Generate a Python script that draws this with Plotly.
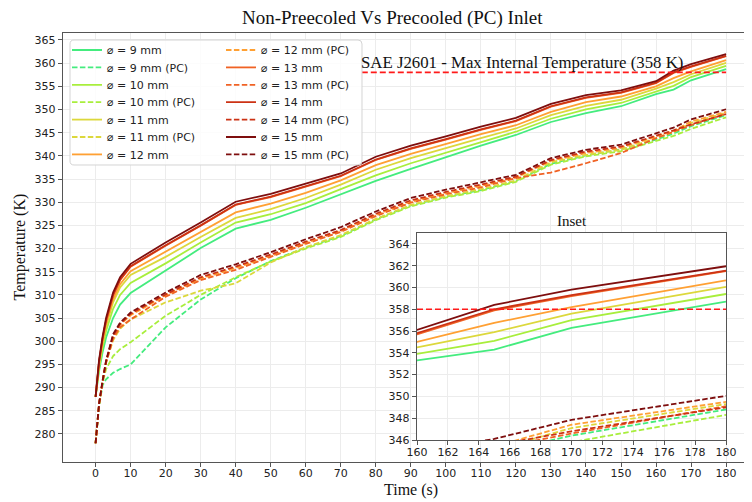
import plotly.graph_objects as go

# ---------------- data ----------------
time_s = [0, 1, 2, 3, 5, 7, 10, 20, 30, 40, 50, 60, 70, 80, 90, 100, 110, 120,
          130, 140, 150, 160, 165, 170, 180]

d9 = [288, 293.6, 297.6, 300.8, 305.0, 307.9, 310.4, 315.2, 320.1, 324.3, 326.2, 328.8,
      331.7, 334.6, 337.2, 339.7, 342.2, 344.5, 347.3, 349.2, 350.7, 353.3, 354.3, 356.3, 358.7]
d10 = [288, 294.3, 298.7, 302.2, 307.0, 310.0, 312.6, 316.8, 321.3, 325.6, 327.4, 329.8,
       332.8, 335.8, 338.4, 340.7, 343.0, 345.2, 348.0, 350.0, 351.4, 353.9, 355.1, 357.0, 359.4]
d11 = [288, 294.8, 299.5, 303.2, 308.4, 311.6, 314.3, 318.2, 322.5, 326.6, 328.5, 330.9,
       333.8, 337.0, 339.5, 341.7, 343.8, 345.9, 348.8, 350.8, 352.1, 354.5, 355.9, 357.6, 360.05]
d12 = [288, 295.2, 300.0, 303.8, 309.1, 312.3, 315.1, 319.3, 323.6, 327.8, 329.7, 332.0,
       334.7, 338.0, 340.4, 342.6, 344.7, 346.6, 349.5, 351.6, 352.8, 355.0, 356.75, 358.2, 360.65]
d13 = [288, 295.5, 300.5, 304.4, 309.9, 313.2, 316.1, 320.6, 324.9, 329.4, 331.1, 333.4,
       335.6, 339.1, 341.5, 343.5, 345.6, 347.5, 350.6, 352.5, 353.6, 355.7, 357.9, 359.2, 361.5]
d14 = [288, 295.6, 300.6, 304.5, 310.0, 313.3, 316.2, 320.7, 325.0, 329.5, 331.2, 333.5,
       335.7, 339.2, 341.6, 343.6, 345.7, 347.6, 350.7, 352.6, 353.7, 355.8, 358.0, 359.3, 361.55]
d15 = [288, 296.0, 301.0, 305.0, 310.5, 313.8, 316.7, 321.3, 325.6, 330.1, 331.8, 334.0,
       336.2, 339.8, 342.2, 344.2, 346.3, 348.2, 351.2, 353.1, 354.1, 356.1, 358.4, 359.8, 361.95]

pc9 = [278, 286.0, 290.5, 291.8, 293.2, 294.0, 295.0, 303.0, 309.0, 313.6, 317.3, 320.2,
       322.7, 326.3, 329.3, 331.2, 332.6, 334.6, 338.3, 340.1, 341.4, 343.5, 344.8, 346.4, 348.8]
pc10 = [278, 286.3, 291.0, 294.0, 296.8, 298.3, 299.8, 305.5, 310.0, 313.8, 317.2, 320.0,
        322.5, 326.1, 329.1, 331.0, 332.4, 334.4, 338.1, 339.9, 341.0, 343.2, 344.3, 345.8, 348.3]
pc11 = [278, 286.4, 291.3, 295.4, 300.2, 302.7, 304.7, 308.4, 310.9, 312.5, 317.0, 320.3,
        322.9, 326.4, 329.4, 331.3, 332.8, 334.7, 338.6, 340.2, 341.3, 343.8, 345.1, 347.1, 349.3]
pc12 = [278, 286.5, 291.4, 295.7, 301.0, 303.5, 305.6, 309.9, 313.5, 315.8, 318.4, 321.2,
        323.8, 327.2, 330.1, 331.9, 333.5, 335.3, 338.9, 340.6, 341.7, 344.2, 345.4, 347.4, 349.5]
pc13 = [278, 286.4, 291.2, 295.3, 300.6, 303.0, 304.7, 309.6, 313.2, 315.4, 318.2, 321.0,
        323.6, 327.0, 329.9, 331.7, 333.2, 335.2, 336.4, 338.4, 340.6, 343.8, 345.2, 346.6, 349.1]
pc14 = [278, 286.5, 291.4, 295.7, 301.2, 303.7, 305.9, 310.1, 313.8, 316.1, 318.7, 321.5,
        324.0, 327.5, 330.4, 332.2, 333.8, 335.5, 339.1, 340.9, 342.0, 344.3, 345.5, 346.8, 349.0]
pc15 = [278, 286.6, 291.5, 295.8, 301.5, 304.0, 306.2, 310.5, 314.3, 316.6, 319.2, 322.0,
        324.6, 328.0, 330.9, 332.7, 334.3, 335.9, 339.5, 341.3, 342.4, 344.9, 346.1, 347.85, 350.05]

diameters = [9, 10, 11, 12, 13, 14, 15]
series_np = [d9, d10, d11, d12, d13, d14, d15]
series_pc = [pc9, pc10, pc11, pc12, pc13, pc14, pc15]
colors = ["#44ec7e", "#a8ee3c", "#dcd83c", "#ffa033", "#f06224", "#cc3214", "#7e0e0e"]

limit_value = 358
limit_start = 76
limit_end = 180
limit_label = "SAE J2601 - Max Internal Temperature (358 K)"

x_ticks = list(range(0, 181, 10))
y_ticks = list(range(280, 366, 5))
inset_x_ticks = list(range(160, 181, 2))
inset_y_ticks = list(range(346, 365, 2))

# ---------------- figure ----------------
# page body has an 8px margin, so the figure is drawn 8px smaller and offset
OFF = 8
W, H = 752 - OFF, 502 - OFF
ML, MR, MT, MB = 63 - OFF, 0, 33 - OFF, 40
PW, PH = W - ML - MR, H - MT - MB
PLOT_BOTTOM_REF = H - MB + OFF  # 462 in reference pixels


def px_x(px):  # reference page px -> paper x
    return (px - OFF - ML) / PW


def px_y(py):  # reference page px -> paper y
    return (PLOT_BOTTOM_REF - py) / PH


fig = go.Figure()
SERIF = "Liberation Serif"
SANS = "DejaVu Sans"

entries = []
for d, c, ynp, ypc in zip(diameters, colors, series_np, series_pc):
    entries.append((f"⌀ = {d} mm", c, ynp, "solid"))
    entries.append((f"⌀ = {d} mm (PC)", c, ypc, "5.5px,2.4px"))

# legend layout: two columns of 7 rows, one single-entry legend per row
row_y = [50, 67.4, 84.8, 102.2, 119.6, 137, 154.4]
col_x = [67, 221]
legend_layouts = {}
for i, (name, c, ys, dash) in enumerate(entries):
    leg = "legend" if i == 0 else f"legend{i + 1}"
    col, row = divmod(i, 7)
    legend_layouts[leg] = dict(x=px_x(col_x[col]), y=px_y(row_y[row]), xanchor="left", yanchor="middle",
                               bgcolor="rgba(0,0,0,0)", borderwidth=0,
                               font=dict(family=SANS, size=11, color="#222"))
    fig.add_trace(go.Scatter(x=time_s, y=ys, mode="lines", name=name,
                             line=dict(color=c, width=1.8, dash=dash),
                             legend=leg, xaxis="x", yaxis="y"))
for i, (name, c, ys, dash) in enumerate(entries):
    fig.add_trace(go.Scatter(x=time_s, y=ys, mode="lines", name=name,
                             line=dict(color=c, width=1.8, dash=dash),
                             showlegend=False, xaxis="x2", yaxis="y2"))

# limit lines
fig.add_trace(go.Scatter(x=[limit_start, limit_end], y=[limit_value, limit_value], mode="lines",
                         line=dict(color="#ff1a1a", width=1.6, dash="6px,3px"),
                         showlegend=False, xaxis="x", yaxis="y"))
fig.add_trace(go.Scatter(x=[160, 180], y=[limit_value, limit_value], mode="lines",
                         line=dict(color="#ff1a1a", width=1.6, dash="6px,3px"),
                         showlegend=False, xaxis="x2", yaxis="y2"))

axis_common = dict(showgrid=True, gridcolor="#ececec", gridwidth=1, zeroline=False,
                   ticks="outside", ticklen=4, tickcolor="#555", tickwidth=1,
                   tickfont=dict(family=SANS, size=11, color="#222"),
                   showline=True, linecolor="#555", linewidth=1.4)

fig.update_layout(
    width=W, height=H,
    margin=dict(l=ML, r=MR, t=MT, b=MB, autoexpand=False),
    paper_bgcolor="white", plot_bgcolor="white",
    xaxis=dict(range=[-9.3, 187.4], tickvals=x_ticks, mirror=True, domain=[0, 1],
               ticklabelstandoff=-3, **axis_common),
    yaxis=dict(range=[273.95, 366.5], tickvals=y_ticks, domain=[0, 1], **axis_common),
    xaxis2=dict(range=[160, 180], tickvals=inset_x_ticks, anchor="y2", mirror=True,
                domain=[px_x(417), px_x(726)], ticklabelstandoff=-2, **axis_common),
    yaxis2=dict(range=[346, 365], tickvals=inset_y_ticks, anchor="x2", mirror=True,
                domain=[px_y(440), px_y(233)], **axis_common),
    showlegend=True,
    **legend_layouts,
)

# legend frame (rounded)
x0, x1, y0, y1, r = 70, 362, 40, 165, 4
def P(px, py):
    return f"{px_x(px):.5f},{px_y(py):.5f}"
path = (f"M {P(x0 + r, y0)} L {P(x1 - r, y0)} Q {P(x1, y0)} {P(x1, y0 + r)} "
        f"L {P(x1, y1 - r)} Q {P(x1, y1)} {P(x1 - r, y1)} L {P(x0 + r, y1)} "
        f"Q {P(x0, y1)} {P(x0, y1 - r)} L {P(x0, y0 + r)} Q {P(x0, y0)} {P(x0 + r, y0)} Z")
fig.add_shape(type="path", path=path, xref="paper", yref="paper",
              fillcolor="rgba(255,255,255,0.85)", line=dict(color="#d4d4d4", width=1), layer="above")

fig.add_annotation(text="Non-Preecoled Vs Precooled (PC) Inlet", xref="paper", yref="paper",
                   x=px_x(392), y=px_y(18), xanchor="center", yanchor="middle", showarrow=False,
                   font=dict(family=SERIF, size=19, color="#111"))
fig.add_annotation(text="Time (s)", xref="paper", yref="paper",
                   x=px_x(411), y=px_y(490), xanchor="center", yanchor="middle", showarrow=False,
                   font=dict(family=SERIF, size=16, color="#111"))
fig.add_annotation(text="Temperature (K)", xref="paper", yref="paper", textangle=-90,
                   x=px_x(19), y=px_y(247.5), xanchor="center", yanchor="middle", showarrow=False,
                   font=dict(family=SERIF, size=16, color="#111"))
fig.add_annotation(text="Inset", xref="paper", yref="paper",
                   x=px_x(571.5), y=px_y(221), xanchor="center", yanchor="middle", showarrow=False,
                   font=dict(family=SERIF, size=15, color="#111"))
fig.add_annotation(text=limit_label, xref="x", yref="y", x=limit_start, y=limit_value,
                   xanchor="left", yanchor="bottom", showarrow=False, borderpad=0, xshift=-2, yshift=-1,
                   font=dict(family=SERIF, size=16.8, color="#111"))

fig.write_html("out.html")
